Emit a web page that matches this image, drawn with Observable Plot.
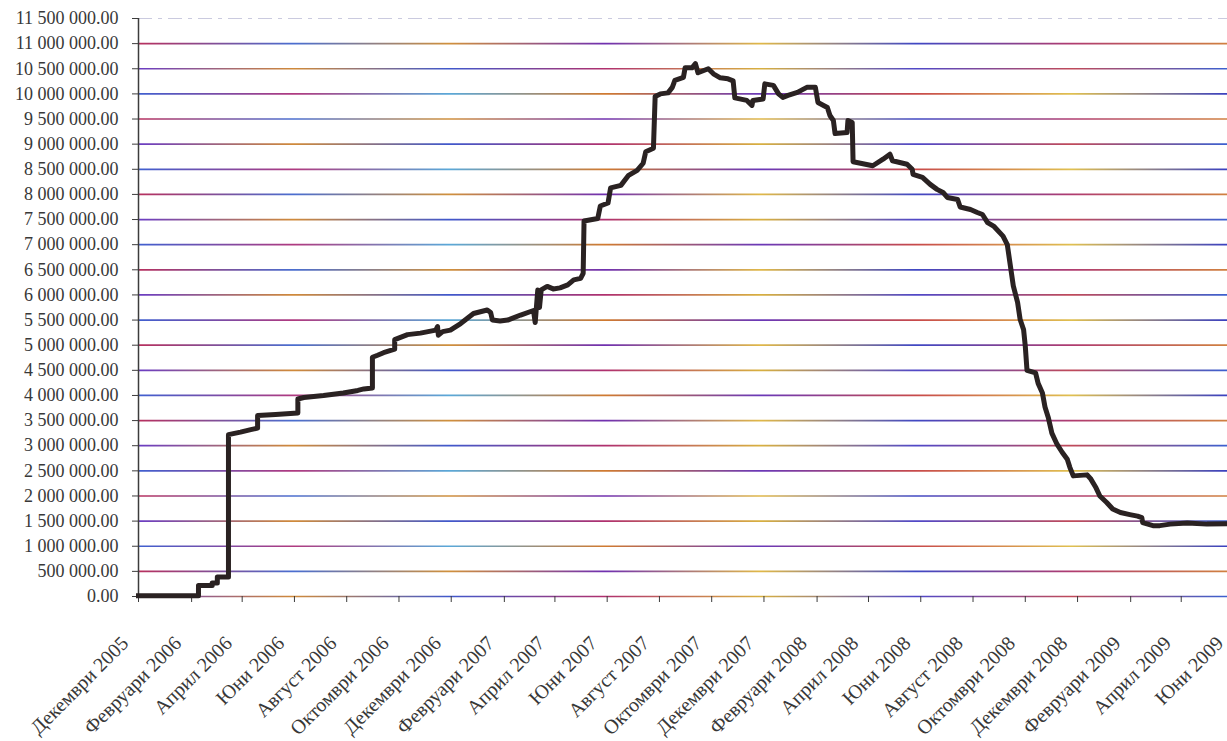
<!DOCTYPE html>
<html>
<head>
<meta charset="utf-8">
<script src="https://cdn.jsdelivr.net/npm/d3@7"></script>
<script src="https://cdn.jsdelivr.net/npm/@observablehq/plot@0.6"></script>
<style>
  html, body { margin: 0; padding: 0; background: #ffffff; overflow: hidden; }
  #chart svg { display: block; }
</style>
</head>
<body>
<div id="chart"></div>
<script>
// ---- data ----
const dates = [
  "2005-12-01","2006-02-09","2006-02-09","2006-02-25","2006-02-25","2006-03-03","2006-03-03","2006-03-16","2006-03-16","2006-03-30",
  "2006-04-11","2006-04-19","2006-04-19","2006-05-10","2006-06-05","2006-06-05","2006-06-12","2006-07-05","2006-07-28","2006-08-14",
  "2006-08-21","2006-08-31","2006-08-31","2006-09-06","2006-09-13","2006-09-26","2006-09-26","2006-10-11","2006-10-26","2006-11-13",
  "2006-11-15","2006-11-16","2006-11-21","2006-11-30","2006-12-12","2006-12-27","2007-01-12","2007-01-16","2007-01-18","2007-01-27",
  "2007-02-05","2007-02-20","2007-03-07","2007-03-09","2007-03-12","2007-03-14","2007-03-16","2007-03-23","2007-03-30","2007-04-07",
  "2007-04-16","2007-04-23","2007-05-01","2007-05-04","2007-05-05","2007-05-21","2007-05-24","2007-06-02","2007-06-05","2007-06-17",
  "2007-06-26","2007-07-06","2007-07-13","2007-07-16","2007-07-25","2007-07-27","2007-08-02","2007-08-11","2007-08-16","2007-08-19",
  "2007-08-29","2007-08-31","2007-09-08","2007-09-12","2007-09-15","2007-09-21","2007-09-27","2007-10-03","2007-10-11","2007-10-20",
  "2007-10-26","2007-10-28","2007-11-11","2007-11-17","2007-11-18","2007-11-30","2007-12-02","2007-12-12","2007-12-18","2007-12-23",
  "2007-12-29","2008-01-09","2008-01-20","2008-01-30","2008-02-02","2008-02-13","2008-02-16","2008-02-20","2008-02-22","2008-03-07",
  "2008-03-08","2008-03-13","2008-03-14","2008-04-06","2008-04-18","2008-04-26","2008-04-29","2008-05-16","2008-05-22","2008-05-23",
  "2008-06-03","2008-06-12","2008-06-20","2008-06-27","2008-07-02","2008-07-14","2008-07-17","2008-07-29","2008-08-06","2008-08-12",
  "2008-08-18","2008-08-25","2008-09-05","2008-09-10","2008-09-13","2008-09-17","2008-09-22","2008-09-25","2008-09-29","2008-10-01",
  "2008-10-03","2008-10-13","2008-10-16","2008-10-21","2008-10-24","2008-10-28","2008-11-01","2008-11-07","2008-11-13","2008-11-19",
  "2008-11-22","2008-11-26","2008-12-12","2008-12-16","2008-12-22","2008-12-27","2009-01-04","2009-01-11","2009-01-20","2009-01-31",
  "2009-02-09","2009-02-14","2009-02-15","2009-02-27","2009-03-07","2009-03-19","2009-04-08","2009-05-01","2009-05-25"
];
const values = [
  15000,15000,220000,220000,270000,270000,390000,390000,3220000,3270000,
  3320000,3350000,3600000,3620000,3650000,3930000,3960000,4000000,4050000,4100000,
  4130000,4150000,4760000,4800000,4850000,4920000,5110000,5210000,5240000,5300000,
  5370000,5200000,5270000,5300000,5430000,5630000,5700000,5650000,5500000,5480000,
  5500000,5600000,5690000,5450000,6100000,5750000,6100000,6170000,6120000,6140000,
  6200000,6300000,6330000,6430000,7470000,7520000,7770000,7830000,8130000,8180000,
  8380000,8480000,8620000,8850000,8920000,9950000,10000000,10020000,10130000,10270000,
  10330000,10520000,10520000,10600000,10420000,10460000,10500000,10400000,10320000,10300000,
  10260000,9920000,9870000,9770000,9870000,9900000,10200000,10170000,10000000,9930000,
  9970000,10030000,10130000,10130000,9830000,9730000,9570000,9470000,9210000,9230000,
  9470000,9430000,8650000,8570000,8700000,8800000,8670000,8600000,8500000,8400000,
  8340000,8200000,8100000,8040000,7940000,7900000,7750000,7700000,7640000,7600000,
  7440000,7370000,7170000,7000000,6650000,6180000,5850000,5510000,5310000,4980000,
  4500000,4450000,4240000,4050000,3770000,3550000,3250000,3030000,2870000,2730000,
  2570000,2400000,2420000,2350000,2180000,2000000,1870000,1740000,1670000,1630000,
  1600000,1570000,1470000,1410000,1410000,1440000,1460000,1440000,1450000
];
const xTickDates = [
  "2005-12-01","2006-02-01","2006-04-01","2006-06-01","2006-08-01","2006-10-01","2006-12-01",
  "2007-02-01","2007-04-01","2007-06-01","2007-08-01","2007-10-01","2007-12-01",
  "2008-02-01","2008-04-01","2008-06-01","2008-08-01","2008-10-01","2008-12-01",
  "2009-02-01","2009-04-01","2009-06-01"
];
const xTickLabels = [
  "Декември 2005","Февруари 2006","Април 2006","Юни 2006","Август 2006","Октомври 2006","Декември 2006",
  "Февруари 2007","Април 2007","Юни 2007","Август 2007","Октомври 2007","Декември 2007",
  "Февруари 2008","Април 2008","Юни 2008","Август 2008","Октомври 2008","Декември 2008",
  "Февруари 2009","Април 2009","Юни 2009"
];
const yMax = 11500000;
const yStep = 500000;
const yTicks = d3.range(0, yMax + 1, yStep);
const xDomain = ["2005-12-01", "2009-05-25"];

// ---- build ----
const series = dates.map((d, i) => ({date: new Date(d), value: values[i]}));
const tickDates = xTickDates.map(d => new Date(d));
const fmt = d3.formatLocale({decimal: ".", thousands: " ", grouping: [3]}).format(",.2f");
const gridVals = yTicks.filter(v => v < yMax);
const grads = ["url(#g0)", "url(#g1)", "url(#g2)"];

const chart = Plot.plot({
  width: 1227,
  height: 741,
  marginLeft: 138,
  marginRight: 0,
  marginTop: 18,
  marginBottom: 145,
  style: {fontFamily: "'Liberation Serif', 'Times New Roman', serif", fontSize: "18px", color: "#383838", background: "#ffffff"},
  x: {type: "utc", domain: xDomain.map(d => new Date(d)), label: null},
  y: {type: "linear", domain: [0, yMax], label: null},
  marks: [
    ...grads.map((g, k) => Plot.ruleY(gridVals.filter((v, i) => i % 3 === k), {stroke: g, strokeWidth: 1.7})),
    Plot.ruleY([yMax], {stroke: "#8a8ab8", strokeWidth: 1.2, strokeOpacity: 0.45, strokeDasharray: "14 6 4 6"}),
    Plot.ruleX([new Date(xDomain[0])], {y1: 0, y2: yMax, stroke: "#3c3c3c", strokeWidth: 1.5}),
    Plot.axisY({ticks: yTicks, tickFormat: fmt, tickSize: 6, tickPadding: 14, stroke: "#3c3c3c", fontSize: 18, label: null}),
    Plot.axisX({ticks: tickDates, tickFormat: () => "", tickSize: 6, stroke: "#3c3c3c", label: null}),
    Plot.text(tickDates, {
      x: d => d,
      text: (d, i) => xTickLabels[i],
      frameAnchor: "bottom",
      rotate: -45,
      textAnchor: "end",
      lineAnchor: "top",
      dx: -19,
      dy: 38,
      fontSize: 20,
      fill: "#383838"
    }),
    Plot.line(series, {x: "date", y: "value", stroke: "#2a2222", strokeWidth: 5, strokeLinejoin: "round", strokeLinecap: "square"})
  ]
});

// gradients imitating the scanned multi-coloured gridlines
const defs = d3.select(chart).insert("defs", ":first-child");
const gradStops = [
  ["#6a3cc4", "#d08a3a", "#4058cc", "#b0306e", "#d8b040", "#5048c8", "#c04a5a", "#3c60d0"],
  ["#b8305e", "#4a6ed0", "#d0903c", "#7030b0", "#e0b848", "#4048c4", "#b03c70", "#d08040"],
  ["#4060d0", "#b03a80", "#5aa8d8", "#d07a30", "#6a38b8", "#c84a4a", "#e0c050", "#3a40c0"]
];
gradStops.forEach((stops, k) => {
  const g = defs.append("linearGradient")
    .attr("id", "g" + k)
    .attr("gradientUnits", "userSpaceOnUse")
    .attr("x1", 138).attr("x2", 1227).attr("y1", 0).attr("y2", 0);
  stops.forEach((c, i) => g.append("stop").attr("offset", i / (stops.length - 1)).attr("stop-color", c));
});

document.getElementById("chart").appendChild(chart);
</script>
</body>
</html>
